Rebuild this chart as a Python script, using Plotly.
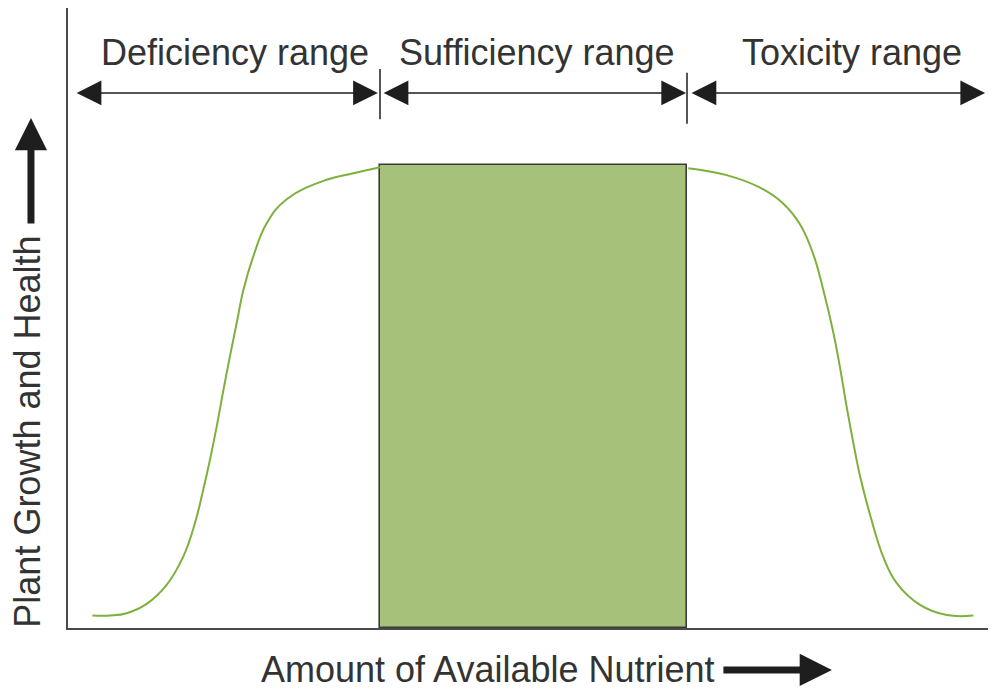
import plotly.graph_objects as go

# nutrient amount (x) and plant growth (y)
RANGE_LABELS = ["Deficiency range", "Sufficiency range", "Toxicity range"]
LABEL_X = [0.528, 1.510, 2.537]
BOUNDARIES = [1.0, 2.0]
SUFFICIENCY_HEIGHT = 1.0

LOW_X = [0.063, 0.121, 0.175, 0.240, 0.305, 0.359, 0.397, 0.424, 0.446,
         0.468, 0.490, 0.511, 0.533, 0.555, 0.587, 0.631, 0.696, 0.826,
         0.913, 1.0]
LOW_Y = [0.027, 0.027, 0.032, 0.052, 0.093, 0.154, 0.226, 0.298, 0.363,
         0.435, 0.514, 0.586, 0.658, 0.730, 0.802, 0.874, 0.926, 0.968,
         0.982, 0.995]

HIGH_X = [2.004, 2.129, 2.238, 2.313, 2.368, 2.411, 2.444, 2.477, 2.498,
          2.520, 2.542, 2.564, 2.596, 2.639, 2.683, 2.759, 2.846, 2.933]
HIGH_Y = [0.993, 0.978, 0.951, 0.917, 0.872, 0.808, 0.730, 0.637, 0.564,
          0.478, 0.399, 0.327, 0.245, 0.154, 0.097, 0.050, 0.028, 0.027]

X_RANGE = [-0.0163, 3.0065]
Y_RANGE = [0, 1.339]

FONT = "Liberation Sans, Arial, sans-serif"
TEXT_COLOR = "#333333"
CURVE_COLOR = "#7db13c"
BOX_COLOR = "#a6c179"
FONT_SIZE = 36

fig = go.Figure()

fig.add_trace(
    go.Bar(
        x=[(BOUNDARIES[0] + BOUNDARIES[1]) / 2],
        y=[SUFFICIENCY_HEIGHT],
        width=[BOUNDARIES[1] - BOUNDARIES[0]],
        marker={"color": BOX_COLOR, "line": {"color": "#3a3a3a", "width": 1.6}},
        hoverinfo="skip",
        showlegend=False,
    )
)
for xs, ys in [(LOW_X, LOW_Y), (HIGH_X, HIGH_Y)]:
    fig.add_trace(
        go.Scatter(
            x=xs,
            y=ys,
            mode="lines",
            line={"color": CURVE_COLOR, "width": 2, "shape": "spline",
                  "smoothing": 1.2},
            hoverinfo="skip",
            showlegend=False,
        )
    )

# range arrows across the top
arrow_y = 1.1555
spans = [(0.007, 0.993), (1.007, 1.997), (2.010, 2.971)]
for label, lx, (x0, x1) in zip(RANGE_LABELS, LABEL_X, spans):
    fig.add_annotation(
        x=x1, y=arrow_y, ax=x0, ay=arrow_y,
        xref="x", yref="y", axref="x", ayref="y",
        text="", showarrow=True,
        arrowside="end+start",
        arrowhead=2, startarrowhead=2,
        arrowsize=3.3, startarrowsize=3.3,
        arrowwidth=1.5, arrowcolor="#1e1e1e",
        standoff=0, startstandoff=0,
    )
    fig.add_annotation(
        x=lx, y=1.242, xref="x", yref="y",
        xanchor="center", yanchor="middle",
        text=label, showarrow=False,
        font={"family": FONT, "size": FONT_SIZE, "color": TEXT_COLOR},
    )

tick_spans = [(1.099, 1.207), (1.089, 1.199)]
for b, (y0, y1) in zip(BOUNDARIES, tick_spans):
    fig.add_shape(
        type="line", x0=b, x1=b, y0=y0, y1=y1, xref="x", yref="y",
        line={"color": "#1e1e1e", "width": 1.5},
    )

# axis titles with their arrows
fig.add_annotation(
    x=-0.0431, y=0.424, xref="paper", yref="y",
    xanchor="center", yanchor="middle",
    text="Plant Growth and Health", textangle=-90, showarrow=False,
    font={"family": FONT, "size": FONT_SIZE, "color": TEXT_COLOR},
)
fig.add_annotation(
    x=-0.0399, y=1.1015, xref="paper", yref="y",
    text="", showarrow=True, ax=0, ay=107,
    arrowhead=2, arrowsize=0.92, arrowwidth=7, arrowcolor="#1e1e1e",
    standoff=0,
)
fig.add_annotation(
    x=1.353, y=-0.0677, xref="x", yref="paper",
    xanchor="center", yanchor="middle",
    text="Amount of Available Nutrient", showarrow=False,
    font={"family": FONT, "size": FONT_SIZE, "color": TEXT_COLOR},
)
fig.add_annotation(
    x=2.472, y=-0.0677, xref="x", yref="paper",
    text="", showarrow=True, ax=-110, ay=0,
    arrowhead=2, arrowsize=0.92, arrowwidth=7, arrowcolor="#1e1e1e",
    standoff=0,
)

fig.update_xaxes(
    range=X_RANGE, showgrid=False, zeroline=False, showticklabels=False,
    ticks="", showline=True, linecolor="#4a4a4a", linewidth=2,
)
fig.update_yaxes(
    range=Y_RANGE, showgrid=False, zeroline=False, showticklabels=False,
    ticks="", showline=True, linecolor="#4a4a4a", linewidth=2,
)
# the page body adds an 8px offset, so the figure is trimmed to fit the window
fig.update_layout(
    width=988,
    height=682,
    margin={"l": 60, "r": 0, "t": 0, "b": 62},
    plot_bgcolor="white",
    paper_bgcolor="white",
    bargap=0,
    showlegend=False,
)

fig.write_html("out.html")
